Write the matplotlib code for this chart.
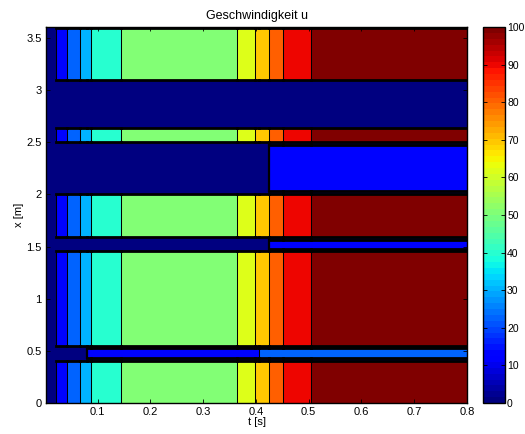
import numpy as np
import matplotlib
matplotlib.use("Agg")
import matplotlib.pyplot as plt
from matplotlib.collections import LineCollection

plt.rcParams['font.family'] = ['Liberation Sans', 'DejaVu Sans']

# time column edges [s] and velocity per column inside the "moving" bands
t_edges = [0.0, 0.021, 0.0424, 0.066, 0.0873, 0.1447, 0.364, 0.398, 0.424, 0.452, 0.504, 0.8]
col_values = [0, 12.5, 22, 31, 40.5, 51.5, 61, 70, 80.5, 90.5, 100]

# x-intervals where u follows the column values
active_bands = [(0.0, 0.404), (0.548, 1.46), (1.59, 2.0), (2.5, 2.64), (3.1, 3.6)]

# stripes inside the resting bands: (x0, x1, t0, t1, value)
stripes = [
    (0.427, 0.529, 0.080, 0.405, 12.5),
    (0.427, 0.529, 0.405, 0.8, 22),
    (1.481, 1.564, 0.424, 0.8, 12.5),
    (2.03, 2.476, 0.424, 0.8, 12.5),
]

x_min, x_max = 0.0, 3.605
t_min, t_max = 0.002, 0.8

# build grid
t_grid = sorted(set(t_edges) | {s[2] for s in stripes} | {s[3] for s in stripes})
x_grid = sorted({x_min, x_max} | {b for band in active_bands for b in band}
                | {s[0] for s in stripes} | {s[1] for s in stripes})
t_grid = np.array(t_grid)
x_grid = np.array(x_grid)
tc = 0.5 * (t_grid[:-1] + t_grid[1:])
xc = 0.5 * (x_grid[:-1] + x_grid[1:])

Z = np.zeros((len(xc), len(tc)))
for i, x in enumerate(xc):
    in_band = any(a <= x <= b for a, b in active_bands)
    for j, t in enumerate(tc):
        v = 0.0
        if in_band:
            k = np.searchsorted(t_edges, t) - 1
            v = col_values[k]
        else:
            for x0, x1, t0, t1, val in stripes:
                if x0 <= x <= x1 and t0 <= t <= t1:
                    v = val
        Z[i, j] = v

fig = plt.figure(figsize=(5.25, 4.34), dpi=100)
ax = fig.add_axes([46/525, 1 - 403/434, (467-46)/525, (403-27)/434])
cax = fig.add_axes([483/525, 1 - 403/434, (505-483)/525, (403-27)/434])

cmap = plt.get_cmap('jet', 64)
mesh = ax.pcolormesh(t_grid, x_grid, Z, cmap=cmap, vmin=0, vmax=100, shading='flat')

# black boundaries between regions of different value
segs, widths = [], []
for i in range(len(xc)):
    for j in range(len(tc) - 1):
        a, b = Z[i, j], Z[i, j + 1]
        if a != b:
            segs.append([(t_grid[j + 1], x_grid[i]), (t_grid[j + 1], x_grid[i + 1])])
            thick = (min(a, b) == 0 and t_grid[j + 1] > 0.05)
            widths.append(1.6 if thick else 0.75)
for i in range(len(xc) - 1):
    for j in range(len(tc)):
        a, b = Z[i, j], Z[i + 1, j]
        if a != b:
            segs.append([(t_grid[j], x_grid[i + 1]), (t_grid[j + 1], x_grid[i + 1])])
            widths.append(2.0)
ax.add_collection(LineCollection(segs, colors='black', linewidths=widths, capstyle='projecting'))

ax.set_xlim(t_min, t_max)
ax.set_ylim(x_min, x_max)
ax.set_xticks([0.1, 0.2, 0.3, 0.4, 0.5, 0.6, 0.7, 0.8])
ax.set_xticklabels(['0.1', '0.2', '0.3', '0.4', '0.5', '0.6', '0.7', '0.8'])
ax.set_yticks([0, 0.5, 1, 1.5, 2, 2.5, 3, 3.5])
ax.set_yticklabels(['0', '0.5', '1', '1.5', '2', '2.5', '3', '3.5'])
ax.tick_params(direction='in', top=True, right=True, labelsize=8, length=3, width=0.6, pad=3)
for s in ax.spines.values():
    s.set_linewidth(1.0)
ax.set_xlabel('t [s]', fontsize=8, labelpad=0)
ax.set_ylabel('x [m]', fontsize=8, labelpad=2)
ax.set_title('Geschwindigkeit u', fontsize=9, pad=6)

cb = fig.colorbar(mesh, cax=cax, ticks=np.arange(0, 101, 10))
cb.ax.tick_params(direction='in', left=True, right=True, labelsize=7.5, length=3, width=0.6, pad=1.5)
cb.outline.set_linewidth(1.0)

fig.savefig('out.png', dpi=100)
